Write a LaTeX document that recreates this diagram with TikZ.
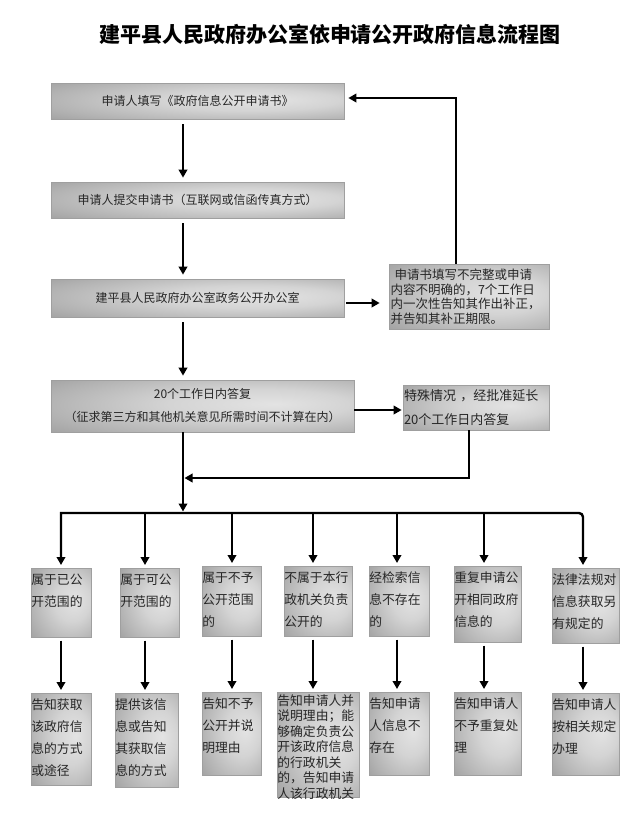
\documentclass[tikz,border=0pt]{standalone}
\usepackage{fontspec}
\setmainfont{Noto Sans CJK SC}
\usetikzlibrary{arrows.meta,calc}

%shading of the boxes: light right of centre, dark at the corners
\pgfdeclareradialshading{boxshade}{\pgfpoint{12bp}{2bp}}{%
	color(0bp)=(black!11); color(15bp)=(black!17); color(32bp)=(black!30); color(50bp)=(black!45); color(64bp)=(black!62)}

%text of a small box: width, height, line distance, first strut, lines
\newcommand{\celltext}[5]{\parbox[c][#2][t]{#1}{\fontsize{12.8}{#3}\selectfont\raggedright\rule{0pt}{#4}#5}}

\begin{document}
\begin{tikzpicture}[x=1pt,y=-1pt,
	box/.style={draw=gray!75,line width=0.7pt,shade,shading=boxshade,inner sep=0pt,text=black!85,font=\fontsize{12}{23}\selectfont},
	cellbox/.style={box,anchor=north west},
	arr/.style={line width=\lw,-{Triangle[length=8pt,width=8.5pt]}},
	]
	\def\lw{2.4pt}	%width of the connectors
	\def\busy{513}	%height of the distributing line
	\useasboundingbox (0,0) rectangle (643,830);
	\fill[white] (0,0) rectangle (643,830);

	\node[font=\bfseries\fontsize{21}{21}\selectfont] (title) at (330,34) {建平县人民政府办公室依申请公开政府信息流程图};

	%main column
	\node[box,minimum width=293pt,minimum height=36pt] (apply) at (197.5,101) {申请人填写《政府信息公开申请书》};
	\node[box,minimum width=293pt,minimum height=36pt] (submit) at (197.5,200) {申请人提交申请书（互联网或信函传真方式）};
	\node[box,minimum width=293pt,minimum height=38pt] (office) at (197.5,298) {建平县人民政府办公室政务公开办公室};
	\node[box,minimum width=303pt,minimum height=52pt,align=center] (reply) at (202.5,406) {20个工作日内答复\\（征求第三方和其他机关意见所需时间不计算在内）};

	%side boxes
	\node[box,minimum width=160pt,minimum height=65pt,text width=157pt,align=left,font=\fontsize{12.5}{14.5}\selectfont] (fix) at (469,296.5) {\hspace{4pt}申请书填写不完整或申请\\内容不明确的，7个工作日\\内一次性告知其作出补正，\\并告知其补正期限。};
	\node[box,minimum width=146pt,minimum height=45pt,text width=144pt,align=left,font=\fontsize{13}{24}\selectfont] (extend) at (476,407.5) {特殊情况 ，经批准延长\\20个工作日内答复};

	%upper row of results
	\foreach \n/\x/\y/\w/\h/\t in {
		b1/31/568/60/69/{属于已公\\开范围的},
		b2/120/568/59/69/{属于可公\\开范围的},
		b3/202/566/59/70/{属于不予\\公开范围\\的},
		b4/284/566/68/70/{不属于本行\\政机关负责\\公开的},
		b5/369/566/60/70/{经检索信\\息不存在\\的},
		b6/454/566/67/76/{重复申请公\\开相同政府\\信息的},
		b7/552/568/67/75/{法律法规对\\信息获取另\\有规定的}}
		\node[cellbox] (\n) at (\x,\y) {\celltext{\w pt}{\h pt}{22pt}{16pt}{\t}};

	%lower row of answers
	\foreach \n/\x/\y/\w/\h/\t in {
		c1/31/693/60/92/{告知获取\\该政府信\\息的方式\\或途径},
		c2/115/693/63/94/{提供该信\\息或告知\\其获取信\\息的方式},
		c3/202/692/59/83/{告知不予\\公开并说\\明理由},
		c5/369/692/60/83/{告知申请\\人信息不\\存在},
		c6/454/692/67/83/{告知申请人\\不予重复处\\理},
		c7/552/693/67/82/{告知申请人\\按相关规定\\办理}}
		\node[cellbox] (\n) at (\x,\y) {\celltext{\w pt}{\h pt}{22pt}{16pt}{\t}};
	\node[cellbox] (c4) at (277,692) {\celltext{82pt}{105pt}{15.5pt}{13pt}{告知申请人并\\说明理由；能\\够确定负责公\\开该政府信息\\的行政机关\\的，告知申请\\人该行政机关}};

	\coordinate (spine) at (183,0);		%x of the main arrows
	\coordinate (merge) at (183,478);	%extension joins here

	%main arrows
	\draw[arr,shorten <=5pt,shorten >=4pt] (apply.south -| spine) -- (submit.north -| spine);
	\draw[arr,shorten <=5pt,shorten >=4pt] (submit.south -| spine) -- (office.north -| spine);
	\draw[arr,shorten <=5pt,shorten >=4pt] (office.south -| spine) -- (reply.north -| spine);
	\draw[arr,shorten <=2pt,shorten >=9pt] ([yshift=-5pt]office.east) -- ([yshift=-5pt]office.east -| fix.west);
	\draw[arr,shorten >=4pt] ([xshift=-13pt]fix.north) |- ([yshift=3pt]apply.east);	%back to the form
	\draw[arr,shorten >=1pt] ([yshift=-4pt]reply.east) -- ([yshift=-4pt]reply.east -| extend.west);
	\draw[arr,shorten >=1.5pt] ([xshift=-7pt]extend.south) |- (merge);

	%taps on the distributing line
	\foreach \i/\x in {1/61,2/145,3/232,4/313,5/397,6/484,7/583}{
		\coordinate (tap\i) at (\x,\busy);
		\draw[arr,shorten <=3pt,shorten >=3pt] (tap\i |- b\i.south) -- (tap\i |- c\i.north);
		}
	\draw[arr,shorten >=1.5pt] (reply.south -| spine) -- (tap1 -| spine);
	\draw[line width=\lw,{Triangle[length=8pt,width=8.5pt]}-{Triangle[length=8pt,width=8.5pt]},shorten <=3pt,shorten >=3pt]
		(tap1 |- b1.north) -- (tap1) [rounded corners=4pt] -- (tap7) -- (tap7 |- b7.north);
	\foreach \i in {2,...,6}
		\draw[arr,shorten >=3pt] (tap\i) -- (tap\i |- b\i.north);
\end{tikzpicture}
\end{document}
